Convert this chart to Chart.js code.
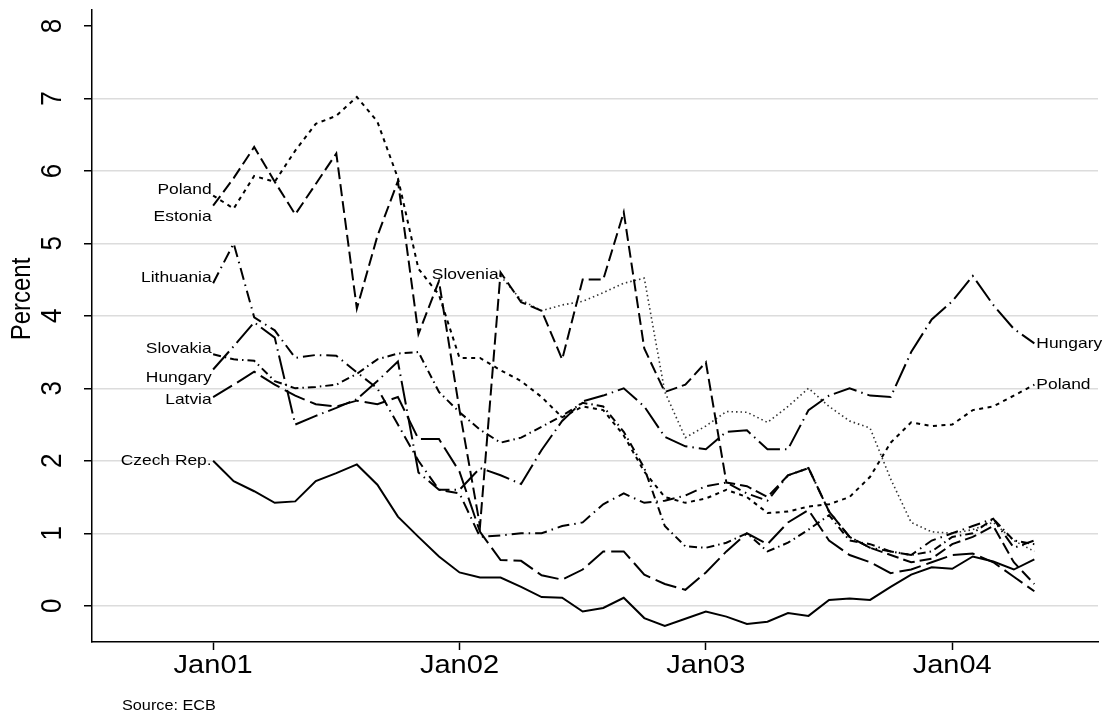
<!DOCTYPE html>
<html lang="en">
<head>
<meta charset="utf-8"/>
<title>Interest rates - new member states</title>
<script src="https://cdn.jsdelivr.net/npm/chart.js"></script>
<style>
  body { margin: 0; background: #fff; }
  canvas { display: block; }
</style>
</head>
<body>
<canvas id="chart" width="1103" height="717"></canvas>
<script>
// monthly observations, Jan 2001 .. May 2004
const months = ['2001-01','2001-02','2001-03','2001-04','2001-05','2001-06','2001-07','2001-08','2001-09','2001-10','2001-11','2001-12',
  '2002-01','2002-02','2002-03','2002-04','2002-05','2002-06','2002-07','2002-08','2002-09','2002-10','2002-11','2002-12',
  '2003-01','2003-02','2003-03','2003-04','2003-05','2003-06','2003-07','2003-08','2003-09','2003-10','2003-11','2003-12',
  '2004-01','2004-02','2004-03','2004-04','2004-05'];

const czech = [2.0,1.72,1.58,1.42,1.44,1.72,1.83,1.95,1.67,1.23,0.95,0.68,0.46,0.39,0.39,0.26,0.12,0.11,-0.08,-0.03,0.11,-0.17,-0.28,-0.18,-0.08,-0.15,-0.25,-0.22,-0.1,-0.14,0.08,0.1,0.08,0.26,0.43,0.53,0.51,0.68,0.61,0.5,0.64];
const estonia = [5.52,5.9,6.33,5.85,5.4,5.82,6.24,4.1,5.1,5.86,3.75,4.48,2.7,1.1,4.6,4.19,4.07,3.4,4.5,4.5,5.43,3.55,2.95,3.05,3.36,1.7,1.65,1.5,1.8,1.9,1.3,0.95,0.8,0.7,0.6,0.65,0.85,0.95,1.1,0.6,0.3];
const hungary = [3.26,3.58,3.91,3.7,2.5,2.62,2.73,2.85,3.1,3.37,1.84,1.6,1.6,1.9,1.8,1.68,2.15,2.55,2.82,2.9,3.0,2.75,2.33,2.2,2.16,2.4,2.42,2.16,2.16,2.7,2.9,3.0,2.9,2.88,3.5,3.95,4.2,4.55,4.15,3.82,3.62];
const latvia = [2.88,3.05,3.23,3.05,2.9,2.78,2.75,2.83,2.78,2.88,2.3,2.3,1.85,1.02,0.63,0.62,0.42,0.36,0.5,0.75,0.75,0.43,0.3,0.22,0.46,0.75,1.0,0.85,1.15,1.32,0.9,0.7,0.6,0.45,0.5,0.6,0.7,0.72,0.6,0.4,0.2];
const lithuania = [4.45,5.0,3.98,3.8,3.42,3.46,3.45,3.22,3.0,2.5,2.0,1.6,1.55,0.95,0.97,1.0,1.0,1.1,1.15,1.4,1.55,1.42,1.45,1.52,1.65,1.7,1.55,1.45,1.8,1.9,1.3,0.95,0.8,0.75,0.7,0.9,1.0,1.1,1.2,0.8,0.9];
const poland = [5.66,5.48,5.93,5.85,6.28,6.65,6.76,7.02,6.68,5.9,4.65,4.29,3.42,3.42,3.25,3.1,2.88,2.6,2.75,2.7,2.35,1.85,1.5,1.42,1.48,1.6,1.5,1.28,1.3,1.37,1.4,1.5,1.78,2.25,2.53,2.48,2.5,2.7,2.75,2.9,3.05];
const slovakia = [3.47,3.4,3.38,3.1,3.0,3.02,3.05,3.2,3.4,3.48,3.5,2.95,2.67,2.43,2.25,2.32,2.47,2.62,2.8,2.75,2.4,1.9,1.1,0.82,0.8,0.87,1.0,0.75,0.87,1.05,1.25,0.9,0.85,0.75,0.7,0.75,0.95,1.0,1.2,0.9,0.85];
const slovenia = [null,null,null,null,null,null,null,null,null,null,null,null,null,null,
  4.55,4.22,4.07,4.15,4.2,4.32,4.45,4.52,2.95,2.32,2.48,2.68,2.67,2.53,2.75,3.0,2.75,2.55,2.45,1.75,1.15,1.02,1.0,1.05,1.15,0.9,0.75];

const yTicks = [0,1,2,3,4,5,6,7,8];
const xTickMonths = [0,12,24,36];
const xTickLabels = ['Jan01','Jan02','Jan03','Jan04'];

// name, data, dash, label side, label height (percent)
const series = [
  ['Czech Rep.', czech, [], 'left', 2.0],
  ['Estonia', estonia, [12,5], 'left', 5.37],
  ['Hungary', hungary, [24,5,1.5,5], 'both', 3.14],
  ['Latvia', latvia, [22,6], 'left', 2.84],
  ['Lithuania', lithuania, [12,5,1.5,5], 'left', 4.52],
  ['Poland', poland, [4,4.5], 'both', 5.74],
  ['Slovakia', slovakia, [8,4,1.5,4], 'left', 3.55],
  ['Slovenia', slovenia, [1.5,3], 'first', 4.56]
];

const SX = 1.16; // text is a little wide in the original
const FONT = '"Liberation Sans", Arial, sans-serif';

function txt(ctx, s, x, y, size, align, base, rot) {
  ctx.save();
  ctx.translate(x, y);
  ctx.scale(SX, 1);
  if (rot) ctx.rotate(rot);
  ctx.font = size + 'px ' + FONT;
  ctx.fillStyle = '#000';
  ctx.textAlign = align;
  ctx.textBaseline = base;
  ctx.fillText(s, 0, 0);
  ctx.restore();
}

const textPlugin = {
  id: 'texts',
  afterDraw(chart) {
    const ctx = chart.ctx, xs = chart.scales.x, ys = chart.scales.y;
    yTicks.forEach(v => txt(ctx, String(v), 53, ys.getPixelForValue(v), 26, 'center', 'middle', -Math.PI / 2));
    xTickMonths.forEach((m, i) => txt(ctx, xTickLabels[i], xs.getPixelForValue(m), 666, 25, 'center', 'middle'));
    txt(ctx, 'Percent', 22, 299, 24, 'center', 'middle', -Math.PI / 2);
    txt(ctx, 'Source: ECB', 122, 706, 14, 'left', 'middle');
    series.forEach(([name, data, , side, ly]) => {
      const first = data.findIndex(v => v !== null);
      if (side === 'left' || side === 'both') {
        txt(ctx, name, xs.getPixelForValue(first) - 1.5, ys.getPixelForValue(ly), 15, 'right', 'middle');
      }
      if (side === 'first') {
        txt(ctx, name, xs.getPixelForValue(first) - 2, ys.getPixelForValue(ly), 15, 'right', 'middle');
      }
      if (side === 'both') {
        const last = data.length - 1;
        txt(ctx, name, xs.getPixelForValue(last) + 2, ys.getPixelForValue(data[last]), 15, 'left', 'middle');
      }
    });
  }
};

new Chart(document.getElementById('chart'), {
  type: 'line',
  data: {
    datasets: series.map(([name, data, dash]) => ({
      label: name,
      data: data.map((v, i) => ({ x: i, y: v })),
      borderColor: name === 'Slovenia' ? '#333' : '#000',
      borderWidth: name === 'Slovenia' ? 1.6 : 2,
      borderDash: dash,
      borderCapStyle: 'butt',
      pointRadius: 0,
      tension: 0,
      fill: false,
      spanGaps: false
    }))
  },
  options: {
    responsive: false,
    animation: false,
    layout: { padding: { top: 10, right: 5, left: 0, bottom: 0 } },
    plugins: { legend: { display: false }, tooltip: { enabled: false } },
    scales: {
      x: {
        type: 'linear', min: -5.9, max: 43.1,
        afterBuildTicks: s => { s.ticks = xTickMonths.map(v => ({ value: v })); },
        afterFit: s => { s.height = 75; },
        ticks: { display: false },
        grid: { drawOnChartArea: false, drawTicks: true, tickLength: 8, tickColor: '#000', tickWidth: 1.5 },
        border: { display: true, color: '#000', width: 1.5 }
      },
      y: {
        min: -0.5, max: 8.22,
        afterBuildTicks: s => { s.ticks = yTicks.map(v => ({ value: v })); },
        afterFit: s => { s.width = 92; },
        ticks: { display: false },
        grid: {
          color: c => (c.tick && c.tick.value === 8) ? 'rgba(0,0,0,0)' : '#dcdcdc',
          lineWidth: 1.5, drawTicks: true, tickLength: 8, tickColor: '#000', tickWidth: 1.5
        },
        border: { display: true, color: '#000', width: 1.5 }
      }
    }
  },
  plugins: [textPlugin]
});
</script>
</body>
</html>
